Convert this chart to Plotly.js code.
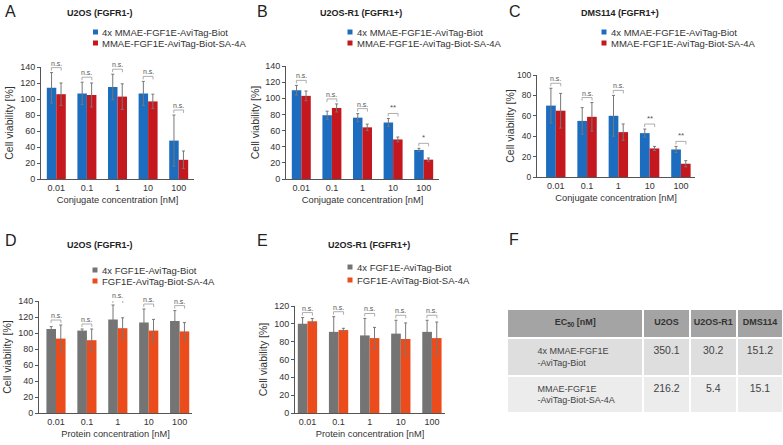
<!DOCTYPE html>
<html>
<head>
<meta charset="utf-8">
<script src="https://cdn.plot.ly/plotly-3.0.1.min.js"></script>
<style>body{margin:0;background:#fff}#chart{width:783px;height:445px}</style>
</head>
<body>
<div id="chart"></div>
<script>
// concentrations shown on every x axis
var conc = ['0.01', '0.1', '1', '10', '100'];

var adcNames = ['4x MMAE-FGF1E-AviTag-Biot', 'MMAE-FGF1E-AviTag-Biot-SA-4A'];
var protNames = ['4x FGF1E-AviTag-Biot', 'FGF1E-AviTag-Biot-SA-4A'];

// A - U2OS (FGFR1-), conjugates
var aBlue = [114, 107, 115, 107, 48];
var aBlueErr = [19, 14, 16, 15, 32];
var aRed = [106, 105, 103, 97, 24];
var aRedErr = [14, 15, 16, 9, 11];
var aSig = ['n.s.', 'n.s.', 'n.s.', 'n.s.', 'n.s.'];

// B - U2OS-R1 (FGFR1+), conjugates
var bBlue = [110, 79, 76, 70, 36];
var bBlueErr = [6, 5, 5, 5, 2];
var bRed = [103, 88, 64, 49, 24];
var bRedErr = [6, 5, 4, 3, 2];
var bSig = ['n.s.', 'n.s.', 'n.s.', '**', '*'];

// C - DMS114 (FGFR1+), conjugates
var cBlue = [70, 55, 60, 43, 27];
var cBlueErr = [17, 13, 20, 4, 3];
var cRed = [65, 59, 44, 28, 13];
var cRedErr = [17, 14, 8, 2, 3];
var cSig = ['n.s.', 'n.s.', 'n.s.', '**', '**'];

// D - U2OS (FGFR1-), proteins
var dGray = [105, 103, 117, 113, 115];
var dGrayErr = [3, 2, 18, 17, 13];
var dOrange = [93, 91, 106, 103, 102];
var dOrangeErr = [17, 14, 13, 14, 11];
var dSig = ['n.s.', 'n.s.', 'n.s.', 'n.s.', 'n.s.'];

// E - U2OS-R1 (FGFR1+), proteins
var eGray = [100, 91, 87, 89, 91];
var eGrayErr = [7, 17, 19, 15, 13];
var eOrange = [103, 93, 84, 83, 84];
var eOrangeErr = [3, 2, 12, 18, 18];
var eSig = ['n.s.', 'n.s.', 'n.s.', 'n.s.', 'n.s.'];

// F - EC50 table
var tableHead = ['EC<sub>50</sub> [nM]', 'U2OS', 'U2OS-R1', 'DMS114'];
var tableRows = ['4x MMAE-FGF1E<br>-AviTag-Biot', 'MMAE-FGF1E<br>-AviTag-Biot-SA-4A'];
var ecU2OS = ['350.1', '216.2'];
var ecR1 = ['30.2', '5.4'];
var ecDMS = ['151.2', '15.1'];

var W = 783, H = 445;
var FONT = 'Liberation Sans, Arial, sans-serif';
var TXT = '#333';
var AXC = '#555';
var BLUE = '#1c6cbf', RED = '#c5171e', GRAY = '#747474', ORANGE = '#ec4b1b';

function px(x) { return x / W; }
function py(y) { return 1 - y / H; }

var idx = conc.map(function (c, i) { return i; });
var data = [];
var shapes = [];
var annotations = [];
var layout = {
  width: W, height: H,
  margin: {l: 0, r: 0, t: 0, b: 0},
  paper_bgcolor: '#fff',
  plot_bgcolor: 'rgba(0,0,0,0)',
  font: {family: FONT, color: TXT},
  barmode: 'group',
  bargap: 0.38,
  bargroupgap: 0,
  showlegend: false
};

function xAx(l, r, range, title, anchor) {
  return {
    domain: [px(l), px(r)], range: range, anchor: anchor,
    tickvals: idx, ticktext: conc,
    showline: true, linecolor: AXC, linewidth: 1,
    ticks: '', showgrid: false, zeroline: false,
    tickfont: {size: 9, color: TXT},
    title: {text: title, font: {size: 9.3, color: TXT}, standoff: 4}
  };
}

function yAx(t, b, max, anchor, fs, so) {
  return {
    domain: [py(b), py(t)], range: [0, max], dtick: 20, anchor: anchor,
    showline: true, linecolor: AXC, linewidth: 1,
    ticks: 'outside', ticklen: 3, tickcolor: AXC,
    showgrid: false, zeroline: false,
    tickfont: {size: fs, color: TXT},
    title: {text: 'Cell viability [%]', font: {size: 10.5, color: TXT}, standoff: so}
  };
}

function panel(n, v1, e1, v2, e2, names, cols, sig) {
  var xa = n === 1 ? 'x' : 'x' + n;
  var ya = n === 1 ? 'y' : 'y' + n;
  [[v1, e1, cols[0], names[0]], [v2, e2, cols[1], names[1]]].forEach(function (s) {
    data.push({
      type: 'bar', x: idx, y: s[0], name: s[3],
      marker: {color: s[2]},
      error_y: {type: 'data', array: s[1], color: '#777', thickness: 1, width: 1.5},
      xaxis: xa, yaxis: ya
    });
  });
  // significance brackets
  sig.forEach(function (s, k) {
    var top = Math.max(v1[k] + e1[k], v2[k] + e2[k]);
    var xl = k - 0.16, xr = k + 0.16;
    var base = {type: 'line', xref: xa, yref: ya, ysizemode: 'pixel', yanchor: top,
      line: {color: '#999', width: 0.8}};
    shapes.push(Object.assign({}, base, {x0: xl, x1: xr, y0: 5, y1: 5}));
    shapes.push(Object.assign({}, base, {x0: xl, x1: xl, y0: 2, y1: 5}));
    shapes.push(Object.assign({}, base, {x0: xr, x1: xr, y0: 2, y1: 5}));
    annotations.push({xref: xa, yref: ya, x: k, y: top, yshift: 4, yanchor: 'bottom',
      showarrow: false, text: s, font: {size: s === 'n.s.' ? 7 : 8, color: '#555'}});
  });
}

function legendBox(names, cols, sqx, tx, y1, y2) {
  [[names[0], cols[0], y1], [names[1], cols[1], y2]].forEach(function (e) {
    shapes.push({type: 'rect', xref: 'paper', yref: 'paper',
      x0: px(sqx - 2.5), x1: px(sqx + 2.5), y0: py(e[2] + 2.5), y1: py(e[2] - 2.5),
      fillcolor: e[1], line: {width: 0}});
    annotations.push({xref: 'paper', yref: 'paper', x: px(tx - 2), y: py(e[2]),
      xanchor: 'left', yanchor: 'middle', showarrow: false, text: e[0],
      font: {size: 9.5, color: TXT}});
  });
}

function label(text, x, y, size, bold, anchor) {
  annotations.push({xref: 'paper', yref: 'paper', x: px(x), y: py(y),
    xanchor: anchor || 'center', yanchor: 'middle', showarrow: false,
    text: bold ? '<b>' + text + '</b>' : text, font: {size: size, color: '#222'}});
}

// bar panels
panel(1, aBlue, aBlueErr, aRed, aRedErr, adcNames, [BLUE, RED], aSig);
panel(2, bBlue, bBlueErr, bRed, bRedErr, adcNames, [BLUE, RED], bSig);
panel(3, cBlue, cBlueErr, cRed, cRedErr, adcNames, [BLUE, RED], cSig);
panel(4, dGray, dGrayErr, dOrange, dOrangeErr, protNames, [GRAY, ORANGE], dSig);
panel(5, eGray, eGrayErr, eOrange, eOrangeErr, protNames, [GRAY, ORANGE], eSig);

layout.xaxis = xAx(41, 194, [-0.5, 4.5], 'Conjugate concentration [nM]', 'y');
layout.yaxis = yAx(67, 179, 140, 'x', 9, 4);
layout.xaxis2 = xAx(286, 439, [-0.5, 4.5], 'Conjugate concentration [nM]', 'y2');
layout.yaxis2 = yAx(66, 179, 140, 'x2', 9, 3);
layout.xaxis3 = xAx(537, 695, [-0.6, 4.45], 'Conjugate concentration [nM]', 'y3');
layout.yaxis3 = yAx(75, 177, 100, 'x3', 8.5, 0);
layout.xaxis4 = xAx(39, 192, [-0.55, 4.4], 'Protein concentration [nM]', 'y4');
layout.yaxis4 = yAx(301, 413, 140, 'x4', 9, 4);
layout.xaxis5 = xAx(295, 445, [-0.4, 4.42], 'Protein concentration [nM]', 'y5');
layout.yaxis5 = yAx(306, 413, 120, 'x5', 9, 4);

// legends
legendBox(adcNames, [BLUE, RED], 95.5, 102, 32, 43);
legendBox(adcNames, [BLUE, RED], 350, 357, 32, 43);
legendBox(adcNames, [BLUE, RED], 604, 611, 32, 43);
legendBox(protNames, [GRAY, ORANGE], 95, 102, 270, 281);
legendBox(protNames, [GRAY, ORANGE], 350, 357, 267, 280);

// panel letters and titles
label('A', 3, 11, 16, false, 'left');
label('B', 255, 11, 16, false, 'left');
label('C', 507, 11, 16, false, 'left');
label('D', 3, 240, 16, false, 'left');
label('E', 255, 240, 16, false, 'left');
label('F', 507, 239, 16, false, 'left');
label('U2OS (FGFR1-)', 100, 13, 9, true);
label('U2OS-R1 (FGFR1+)', 361, 13, 9, true);
label('DMS114 (FGFR1+)', 620, 13, 9, true);
label('U2OS (FGFR1-)', 100, 245, 9, true);
label('U2OS-R1 (FGFR1+)', 369, 245, 9, true);

// EC50 table
var pad = '\u00a0\u00a0\u00a0\u00a0\u00a0\u00a0\u00a0\u00a0\u00a0';
data.push({
  type: 'table',
  domain: {x: [px(507), 1], y: [py(414), py(309)]},
  columnwidth: [136, 46, 47, 46],
  header: {
    values: tableHead.map(function (h) { return '<b>' + h + '</b>'; }),
    height: 29,
    align: 'center',
    fill: {color: '#a4a4a4'},
    line: {color: '#fff', width: 2},
    font: {family: FONT, size: 9, color: '#333'}
  },
  cells: {
    values: [tableRows.map(function (r) { return pad + r.replace('<br>', '<br>' + pad); }), ecU2OS, ecR1, ecDMS],
    height: 30,
    align: ['left', 'center', 'center', 'center'],
    fill: {color: [['#dedede', '#ececec'], ['#dedede', '#ececec'], ['#dedede', '#ececec'], ['#dedede', '#ececec']]},
    line: {color: '#fff', width: 2},
    font: {family: FONT, size: [9, 10.5, 10.5, 10.5], color: '#444'}
  }
});

layout.shapes = shapes;
layout.annotations = annotations;

Plotly.newPlot('chart', data, layout, {staticPlot: true});
</script>
</body>
</html>
